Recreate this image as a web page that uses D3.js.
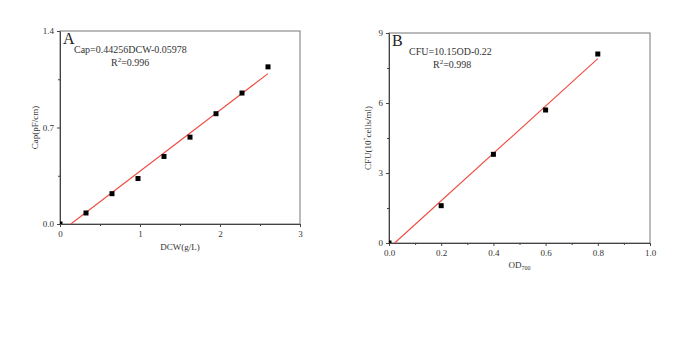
<!DOCTYPE html>
<html>
<head>
<meta charset="utf-8">
<script src="https://cdn.jsdelivr.net/npm/d3@7"></script>
<style>
  body { margin: 0; background: #fff; }
  svg { font-family: "Liberation Serif", "Times New Roman", serif; }
  .axis path, .axis line { stroke: #444; }
  .axis text { fill: #333; font-size: 9px; font-family: "Liberation Serif", serif; }
</style>
</head>
<body>
<script>
// panel A data: DCW vs capacitance
var dcw = [0, 0.325, 0.65, 0.975, 1.3, 1.625, 1.95, 2.275, 2.6];
var cap = [0, 0.08, 0.22, 0.33, 0.49, 0.63, 0.80, 0.95, 1.14];
var fitA = {slope: 0.44256, icpt: -0.05978};

// panel B data: OD700 vs CFU
var od = [0, 0.2, 0.4, 0.6, 0.8];
var cfu = [0, 1.6, 3.8, 5.7, 8.1];
var fitB = {slope: 10.15, icpt: -0.22};

var ticksAx = [0, 1, 2, 3], ticksAy = [0, 0.7, 1.4];
var ticksBx = [0, 0.2, 0.4, 0.6, 0.8, 1.0], ticksBy = [0, 3, 6, 9];

var svg = d3.select("body").append("svg")
  .attr("width", 685)
  .attr("height", 350);

function panel(opt) {
  var x = d3.scaleLinear().domain(opt.xdom).range([opt.left, opt.right]);
  var y = d3.scaleLinear().domain(opt.ydom).range([opt.bottom, opt.top]);
  var g = svg.append("g");

  g.append("clipPath").attr("id", "clip" + opt.letter)
    .append("rect")
    .attr("x", opt.left).attr("y", opt.top - 3)
    .attr("width", opt.right - opt.left + 3).attr("height", opt.bottom - opt.top + 3);

  // frame
  g.append("rect")
    .attr("x", opt.left).attr("y", opt.top)
    .attr("width", opt.right - opt.left).attr("height", opt.bottom - opt.top)
    .attr("fill", "none").attr("stroke", "#777").attr("stroke-width", 1);

  // minor ticks
  g.append("g").attr("class", "axis")
    .attr("transform", "translate(0," + opt.bottom + ")")
    .call(d3.axisBottom(x).tickValues(opt.xminor).tickSize(2).tickFormat(""))
    .select(".domain").remove();
  g.append("g").attr("class", "axis")
    .attr("transform", "translate(" + opt.left + ",0)")
    .call(d3.axisLeft(y).tickValues(opt.yminor).tickSize(2).tickFormat(""))
    .select(".domain").remove();

  // major axes
  g.append("g").attr("class", "axis")
    .attr("transform", "translate(0," + opt.bottom + ")")
    .call(d3.axisBottom(x).tickValues(opt.xticks).tickSize(3).tickPadding(4).tickFormat(opt.xfmt).tickSizeOuter(0));
  g.append("g").attr("class", "axis")
    .attr("transform", "translate(" + opt.left + ",0)")
    .call(d3.axisLeft(y).tickValues(opt.yticks).tickSize(3).tickPadding(3).tickFormat(opt.yfmt).tickSizeOuter(0));

  // fit line
  var x0 = -opt.fit.icpt / opt.fit.slope, x1 = d3.max(opt.xs);
  g.append("line")
    .attr("x1", x(x0)).attr("y1", y(0))
    .attr("x2", x(x1)).attr("y2", y(opt.fit.slope * x1 + opt.fit.icpt))
    .attr("stroke", "#ee4a40").attr("stroke-width", 1.1);

  // points
  g.append("g").attr("clip-path", "url(#clip" + opt.letter + ")")
    .selectAll("rect.pt")
    .data(opt.xs.map(function(d, i) { return [d, opt.ys[i]]; }))
    .enter().append("rect")
    .attr("class", "pt")
    .attr("x", function(d) { return x(d[0]) - 2.5; })
    .attr("y", function(d) { return y(d[1]) - 2.5; })
    .attr("width", 5).attr("height", 5)
    .attr("fill", "#000");

  // panel letter
  g.append("text")
    .attr("x", opt.left + 3).attr("y", opt.top + 13)
    .style("font-size", "16px").attr("fill", "#222")
    .text(opt.letter);

  // equation
  g.append("text")
    .attr("x", opt.eqX).attr("y", opt.top + 22)
    .style("font-size", "10px").attr("fill", "#333")
    .text(opt.eq);
  var r = g.append("text")
    .attr("x", opt.r2X).attr("y", opt.top + 35)
    .style("font-size", "10px").attr("fill", "#333");
  r.append("tspan").text("R");
  r.append("tspan").attr("dy", -4).style("font-size", "7px").text("2");
  r.append("tspan").attr("dy", 4).text("=" + opt.r2);

  // axis labels
  var yl = g.append("text")
    .attr("transform", "translate(" + opt.ylabX + "," + ((opt.top + opt.bottom) / 2) + ") rotate(-90)")
    .style("text-anchor", "middle").style("font-size", "9px").attr("fill", "#333");
  opt.ylab(yl);
  var xl = g.append("text")
    .attr("x", (opt.left + opt.right) / 2).attr("y", opt.xlabY)
    .style("text-anchor", "middle").style("font-size", "9px").attr("fill", "#333");
  opt.xlab(xl);
}

panel({
  left: 60, right: 300, top: 31, bottom: 224,
  xdom: [0, 3], ydom: [0, 1.4],
  xticks: ticksAx, yticks: ticksAy,
  xminor: [0.5, 1.5, 2.5], yminor: [0.35, 1.05],
  xfmt: d3.format("d"), yfmt: d3.format(".1f"),
  xs: dcw, ys: cap, fit: fitA,
  letter: "A", eq: "Cap=0.44256DCW-0.05978", eqX: 74, r2X: 111, r2: "0.996",
  ylabX: 38, xlabY: 250,
  ylab: function(t) { t.text("Cap(pF/cm)"); },
  xlab: function(t) { t.text("DCW(g/L)"); }
});

panel({
  left: 389, right: 650, top: 33, bottom: 243,
  xdom: [0, 1], ydom: [0, 9],
  xticks: ticksBx, yticks: ticksBy,
  xminor: [0.1, 0.3, 0.5, 0.7, 0.9], yminor: [1.5, 4.5, 7.5],
  xfmt: d3.format(".1f"), yfmt: d3.format("d"),
  xs: od, ys: cfu, fit: fitB,
  letter: "B", eq: "CFU=10.15OD-0.22", eqX: 409, r2X: 433, r2: "0.998",
  ylabX: 371, xlabY: 268,
  ylab: function(t) {
    t.append("tspan").text("CFU(10");
    t.append("tspan").attr("dy", -3).style("font-size", "6px").text("7");
    t.append("tspan").attr("dy", 3).text("cells/ml)");
  },
  xlab: function(t) {
    t.append("tspan").text("OD");
    t.append("tspan").attr("dy", 2).style("font-size", "6px").text("700");
  }
});
</script>
</body>
</html>
